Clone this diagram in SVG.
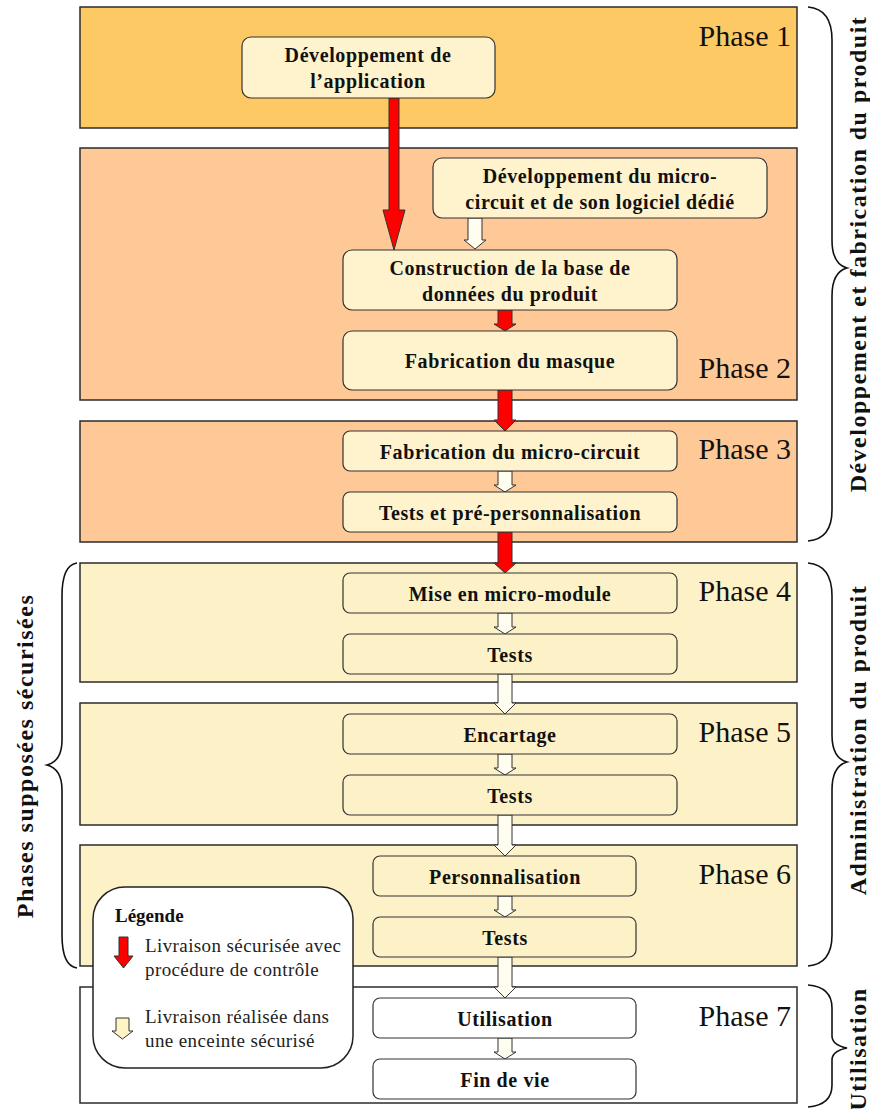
<svg xmlns="http://www.w3.org/2000/svg" width="870" height="1109" viewBox="0 0 870 1109">
<style>
.phase{stroke:#2b2b2b;stroke-width:1.5}
.node{stroke:#333;stroke-width:1.2}
.nt{font-family:"Liberation Serif",serif;font-weight:bold;font-size:20px;letter-spacing:0.6px;fill:#111;text-anchor:middle}
.pl{font-family:"Liberation Serif",serif;font-size:30px;fill:#111;text-anchor:end}
.side{font-family:"Liberation Serif",serif;font-weight:bold;font-size:24px;letter-spacing:1.5px;fill:#111;text-anchor:middle}
.lg{font-family:"Liberation Serif",serif;font-size:19px;letter-spacing:0.4px;fill:#222}
.red{fill:#ff0000;stroke:#333;stroke-width:1}
.hol{fill:#fffdf0;stroke:#333;stroke-width:1}
.brace{fill:none;stroke:#111;stroke-width:1.6}
</style>
<rect width="870" height="1109" fill="#ffffff"/>
<g id="phases">
<g id="phase1"><rect class="phase" x="80" y="7" width="717" height="121" fill="#fcc965"/><text class="pl" x="791" y="46">Phase 1</text></g>
<g id="phase2"><rect class="phase" x="80" y="148" width="717" height="252" fill="#fec897"/><text class="pl" x="791" y="378">Phase 2</text></g>
<g id="phase3"><rect class="phase" x="80" y="421" width="717" height="121" fill="#fec897"/><text class="pl" x="791" y="459">Phase 3</text></g>
<g id="phase4"><rect class="phase" x="80" y="563" width="717" height="119" fill="#fdf1c8"/><text class="pl" x="791" y="601">Phase 4</text></g>
<g id="phase5"><rect class="phase" x="80" y="703" width="717" height="122" fill="#fdf1c8"/><text class="pl" x="791" y="742">Phase 5</text></g>
<g id="phase6"><rect class="phase" x="80" y="845" width="717" height="121" fill="#fdf1c8"/><text class="pl" x="791" y="884">Phase 6</text></g>
<g id="phase7"><rect class="phase" x="80" y="987" width="717" height="116" fill="#ffffff"/><text class="pl" x="791" y="1026">Phase 7</text></g>
</g>
<g id="connectors">
<polygon class="red" points="389,98 399,98 399,210 405,210 394,250 383,210 389,210"/>
<polygon class="hol" points="468,218 482,218 482,240 486,240 475,249 464,240 468,240"/>
<polygon class="red" points="498,310 512,310 512,324 516,324 505,331 494,324 498,324"/>
<polygon class="red" points="498,390 512,390 512,420 516,420 505,431 494,420 498,420"/>
<polygon class="hol" points="498,471 512,471 512,485 516,485 505,492 494,485 498,485"/>
<polygon class="red" points="498,532 512,532 512,563 516,563 505,573 494,563 498,563"/>
<polygon class="hol" points="498,613 512,613 512,627 516,627 505,634 494,627 498,627"/>
<polygon class="hol" points="498,674 512,674 512,703 516,703 505,714 494,703 498,703"/>
<polygon class="hol" points="498,754 512,754 512,768 516,768 505,775 494,768 498,768"/>
<polygon class="hol" points="498,815 512,815 512,845 516,845 505,856 494,845 498,845"/>
<polygon class="hol" points="498,896 512,896 512,910 516,910 505,917 494,910 498,910"/>
<polygon class="hol" points="498,957 512,957 512,987 516,987 505,998 494,987 498,987"/>
<polygon class="hol" points="498,1038 512,1038 512,1052 516,1052 505,1059 494,1052 498,1052"/>
</g>
<g id="n1"><rect class="node" x="242" y="37" width="253" height="61" rx="9" fill="#fff3cd"/><text class="nt" x="368" y="62">Développement de</text><text class="nt" x="368" y="88">l’application</text></g>
<g id="n2"><rect class="node" x="433" y="158" width="334" height="60" rx="9" fill="#fff3cd"/><text class="nt" x="600" y="183">Développement du micro-</text><text class="nt" x="600" y="209">circuit et de son logiciel dédié</text></g>
<g id="n3"><rect class="node" x="343" y="250" width="334" height="60" rx="9" fill="#fff3cd"/><text class="nt" x="510" y="275">Construction de la base de</text><text class="nt" x="510" y="301">données du produit</text></g>
<g id="n4"><rect class="node" x="343" y="331" width="334" height="59" rx="9" fill="#fff3cd"/><text class="nt" x="510" y="368">Fabrication du masque</text></g>
<g id="n5"><rect class="node" x="343" y="431" width="334" height="40" rx="7" fill="#fff3cd"/><text class="nt" x="510" y="459">Fabrication du micro-circuit</text></g>
<g id="n6"><rect class="node" x="343" y="492" width="334" height="40" rx="7" fill="#fff3cd"/><text class="nt" x="510" y="520">Tests et pré-personnalisation</text></g>
<g id="n7"><rect class="node" x="343" y="573" width="334" height="40" rx="7" fill="#fdf1c8"/><text class="nt" x="510" y="601">Mise en micro-module</text></g>
<g id="n8"><rect class="node" x="343" y="634" width="334" height="40" rx="7" fill="#fdf1c8"/><text class="nt" x="510" y="662">Tests</text></g>
<g id="n9"><rect class="node" x="343" y="714" width="334" height="40" rx="7" fill="#fdf1c8"/><text class="nt" x="510" y="742">Encartage</text></g>
<g id="n10"><rect class="node" x="343" y="775" width="334" height="40" rx="7" fill="#fdf1c8"/><text class="nt" x="510" y="803">Tests</text></g>
<g id="n11"><rect class="node" x="373" y="856" width="263" height="40" rx="7" fill="#fdf1c8"/><text class="nt" x="505" y="884">Personnalisation</text></g>
<g id="n12"><rect class="node" x="373" y="917" width="263" height="40" rx="7" fill="#fdf1c8"/><text class="nt" x="505" y="945">Tests</text></g>
<g id="n13"><rect class="node" x="373" y="998" width="263" height="40" rx="7" fill="#ffffff"/><text class="nt" x="505" y="1026">Utilisation</text></g>
<g id="n14"><rect class="node" x="373" y="1059" width="263" height="40" rx="7" fill="#ffffff"/><text class="nt" x="505" y="1087">Fin de vie</text></g>
<g id="legend">
<rect x="93" y="887" width="260" height="181" rx="32" fill="#ffffff" stroke="#222" stroke-width="1.5"/>
<text x="115" y="922" font-family="Liberation Serif, serif" font-weight="bold" font-size="19" fill="#111">Légende</text>
<polygon class="red" points="119,937 128,937 128,956 133,956 123.5,968 114,956 119,956"/>
<text class="lg" x="145" y="952">Livraison sécurisée avec</text>
<text class="lg" x="145" y="976">procédure de contrôle</text>
<polygon fill="#fff4c4" stroke="#333" stroke-width="1" points="116,1018 129,1018 129,1031 133,1031 122.5,1039 112,1031 116,1031"/>
<text class="lg" x="145" y="1023">Livraison réalisée dans</text>
<text class="lg" x="145" y="1047">une enceinte sécurisé</text>
</g>
<g id="braces">
<path class="brace" d="M808,7 Q832,9 832,40 L832,240 Q832,264 847,268 Q832,272 832,296 L832,510 Q832,539 808,541"/>
<text class="side" transform="translate(866,254) rotate(-90)">Développement et fabrication du produit</text>
<path class="brace" d="M808,563 Q832,565 832,596 L832,735 Q832,758 847,762 Q832,766 832,790 L832,935 Q832,964 808,966"/>
<text class="side" transform="translate(866,740) rotate(-90)">Administration du produit</text>
<path class="brace" d="M808,985 Q832,987 832,1008 L832,1036 Q832,1045 847,1048 Q832,1051 832,1060 L832,1085 Q832,1105 808,1107"/>
<text class="side" transform="translate(866,1049) rotate(-90)">Utilisation</text>
<path class="brace" d="M77,563 Q62,565 62,596 L62,740 Q62,761 47,765 Q62,769 62,790 L62,935 Q62,966 77,968"/>
<text class="side" transform="translate(33,756) rotate(-90)">Phases supposées sécurisées</text>
</g>
</svg>
